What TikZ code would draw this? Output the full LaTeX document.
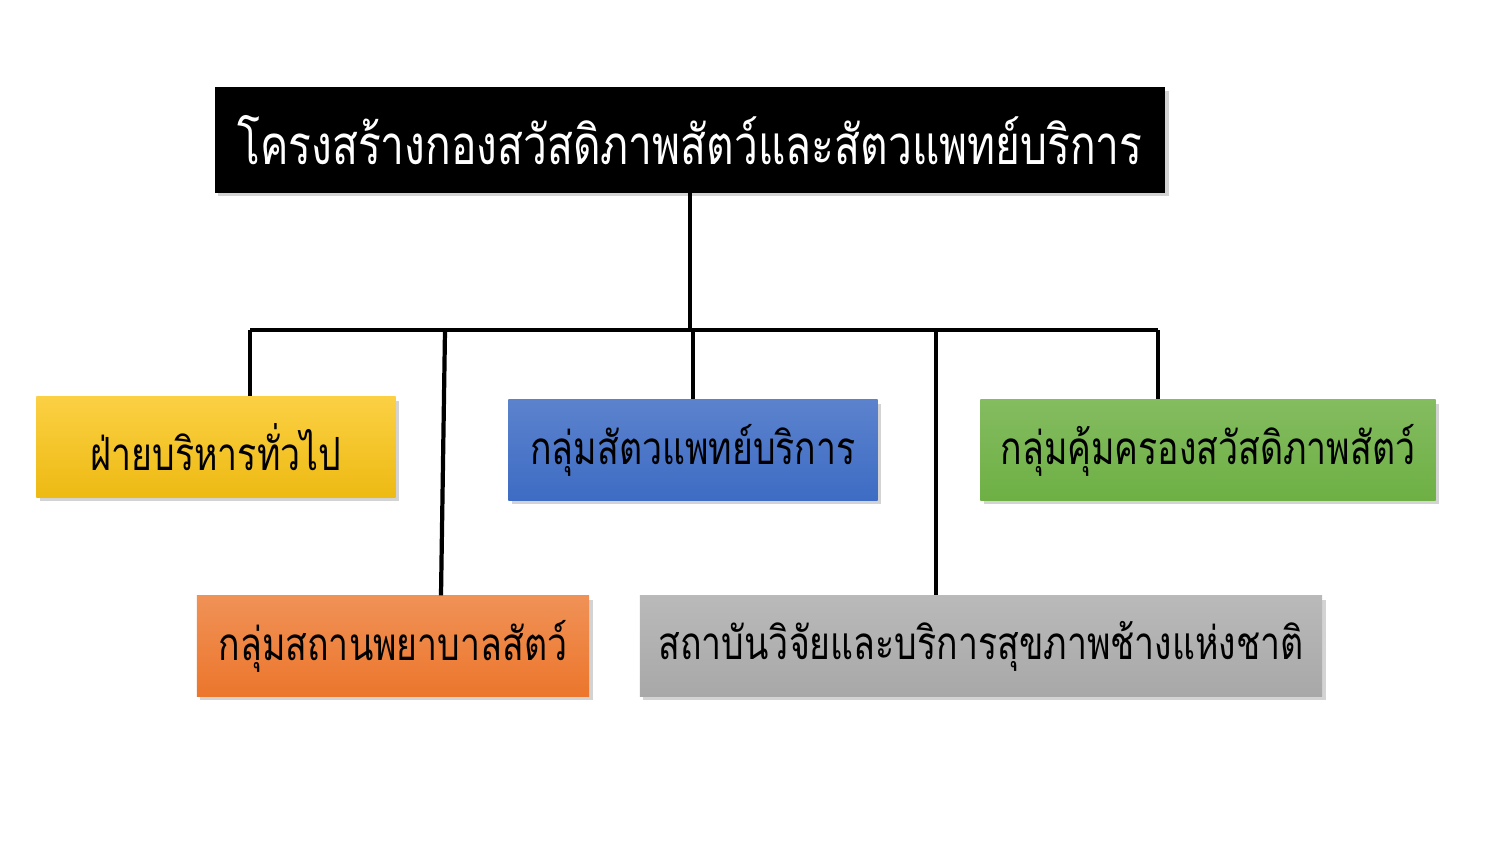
\documentclass[tikz,border=0pt]{standalone}
\usepackage{fontspec}
\newfontfamily\thaifont[Script=Thai, FakeStretch=0.78]{Loma}
\usetikzlibrary{shadows}
\definecolor{boxyellow}{RGB}{250,196,20}
\definecolor{boxblue}{RGB}{62,108,196}
\definecolor{boxgreen}{RGB}{110,176,68}
\definecolor{boxorange}{RGB}{236,118,44}
\definecolor{boxgray}{RGB}{168,168,168}
\begin{document}
\begin{tikzpicture}
            [
                x=0.01cm, y=-0.01cm,
                unit/.style={minimum height=1cm, inner sep=0pt, drop shadow={opacity=0.35, shadow xshift=1pt, shadow yshift=-1pt},
                    font=\thaifont\fontsize{13}{15}\selectfont},
                link/.style={line width=1.2pt}
            ]
            \useasboundingbox (0,0) rectangle (1489,851);
            \node[unit, fill=black, text=white, minimum width=9.5cm, minimum height=1.05cm,
                font=\thaifont\fontsize{15.5}{17}\selectfont] (head) at (690,140) {โครงสร้างกองสวัสดิภาพสัตว์และสัตวแพทย์บริการ};
            \node[unit, top color=boxyellow!80!white, bottom color=boxyellow!95!black, minimum width=3.59cm] (admin) at (216,447) {ฝ่ายบริหารทั่วไป};
            \node[unit, top color=boxblue!85!white, bottom color=boxblue, minimum width=3.69cm] (vet) at (693,450) {กลุ่มสัตวแพทย์บริการ};
            \node[unit, top color=boxgreen!85!white, bottom color=boxgreen, minimum width=4.55cm] (welfare) at (1208,450) {กลุ่มคุ้มครองสวัสดิภาพสัตว์};
            \node[unit, top color=boxorange!80!white, bottom color=boxorange, minimum width=3.92cm] (hospital) at (393,646) {กลุ่มสถานพยาบาลสัตว์};
            \node[unit, top color=boxgray!80!white, bottom color=boxgray, minimum width=6.82cm] (elephant) at (981,646) {สถาบันวิจัยและบริการสุขภาพช้างแห่งชาติ};
            \coordinate (left) at (250,330);
            \coordinate (right) at (1158,330);
            \draw[link] (head.south) -- (head.south |- left);
            \draw[link] (left) -- (right);
            \draw[link] (left) -- (admin.north -| left);
            \draw[link] (445,330) -- (hospital.north -| 441,0);
            \draw[link] (vet.north |- left) -- (vet.north);
            \draw[link] (936,330) -- (elephant.north -| 936,0);
            \draw[link] (right) -- (welfare.north -| right);
\end{tikzpicture}
\end{document}
